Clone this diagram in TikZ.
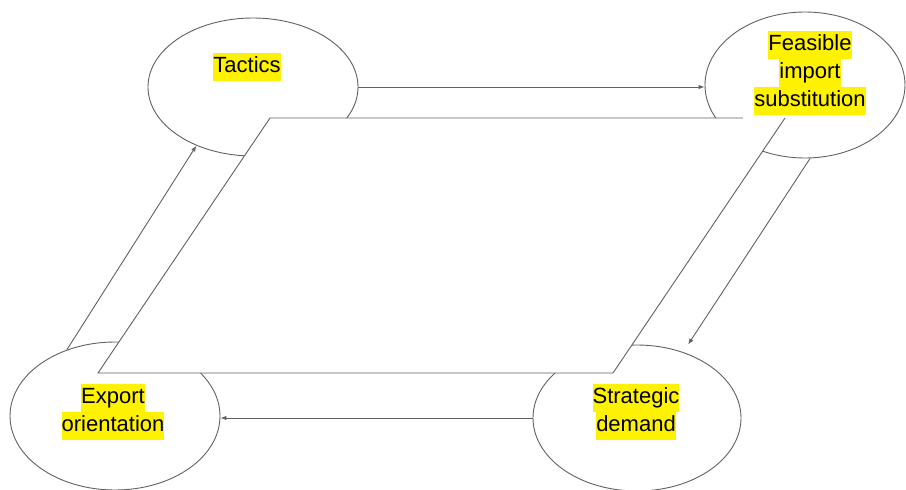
\documentclass[tikz,border=0pt]{standalone}
\usepackage{fontspec}
\setmainfont{Liberation Sans}
\usetikzlibrary{shapes.geometric,arrows.meta,calc}
\newcommand\hlbox[1]{{\setlength\fboxsep{0pt}\colorbox{yellow}{\strut #1}}}
\tikzset{
  oval/.style={draw=black!62, line width=0.9pt, ellipse, inner sep=0pt, fill=white},
  label/.style={inner sep=0pt, align=center, font=\fontsize{22}{28}\selectfont},
  flow/.style={draw=black!62, line width=0.9pt, -{Latex[length=6pt,width=4.5pt]}},
  plate/.style={draw=black!62, line width=0.9pt}
}
\begin{document}
\begin{tikzpicture}[x=1pt,y=-1pt]
\useasboundingbox (0,0) rectangle (906,490);
\fill[white] (0,0) rectangle (906,490);
% ellipses
\node[oval, minimum width=210pt, minimum height=138pt] (tac) at (253,87) {};
\node[oval, minimum width=200pt, minimum height=146pt] (fis) at (805,85) {};
\node[oval, minimum width=210pt, minimum height=148pt] (exp) at (115,416) {};
\node[oval, minimum width=208pt, minimum height=146pt] (str) at (637,418) {};
% connectors
\draw[flow] (tac.east) -- (tac.east -| fis.west);
\draw[flow, shorten >=9pt] (fis.274) -- (str.55);
\draw[flow] (str.west) -- (str.west -| exp.east);
\draw[flow] (exp.126) -- (tac.226);
% parallelogram
\fill[white] (270,118) -- (785,118) -- (613,373) -- (98,373) -- cycle;
\draw[plate] (743,118) -- (270,118) -- (98,373) -- (613,373) -- (785,118);
% labels
\node[label] (tactxt) at (247,67) {\hlbox{Tactics}};
\node[label] (fistxt) at (810,73) {\hlbox{Feasible}\\\hlbox{import}\\\hlbox{substitution}};
\node[label] (exptxt) at (113,412) {\hlbox{Export}\\\hlbox{orientation}};
\node[label] (strtxt) at (636,412) {\hlbox{Strategic}\\\hlbox{demand}};
\end{tikzpicture}
\end{document}
